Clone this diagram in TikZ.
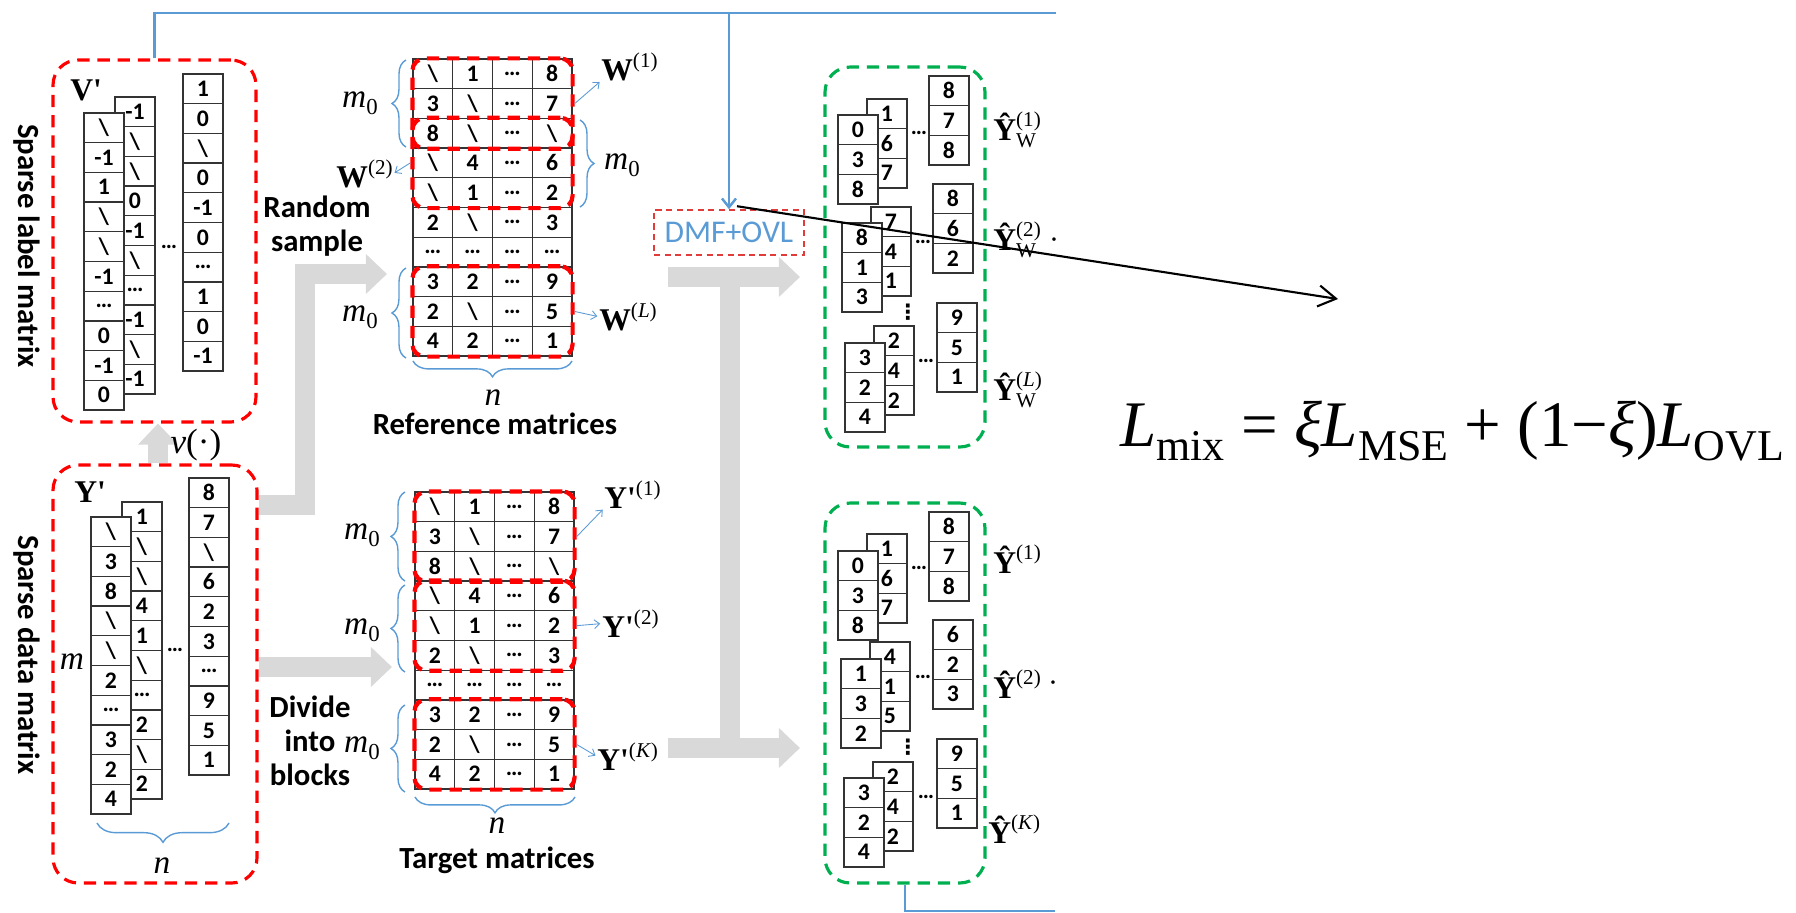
\documentclass[tikz,border=0pt]{standalone}
\usepackage{fontspec}
\setmainfont{Carlito}
\newfontfamily\tms{Liberation Serif}
\newfontfamily\djv{DejaVu Sans}
\usepackage{xcolor}
\usepackage{tikz}
\usetikzlibrary{arrows.meta,decorations.pathreplacing,fit,calc}

\definecolor{boxred}{RGB}{255,0,0}
\definecolor{dmfred}{RGB}{225,60,60}
\definecolor{boxgreen}{RGB}{0,176,80}
\definecolor{linkblue}{RGB}{91,155,213}
\definecolor{flowgrey}{RGB}{217,217,217}

\newcommand{\bs}{\textbackslash}
\newcommand{\tdots}{…}

% one column of cells: name, left x, top y, values
\newcommand{\vcol}[4]{%
  \foreach \val [count=\cn] in {#4}
    \node[cell] (#1-\cn) at ({#2+20},{#3+(\cn-0.5)*29.7}) {\val};}

% matrix of cells: name, left x, top y, rows
\newcommand{\mgrid}[4]{%
  \foreach \row [count=\ri] in {#4}
    \foreach \val [count=\ci] in \row
      \node[gcell] (#1-\ri-\ci) at ({#2+(\ci-0.5)*39.75},{#3+(\ri-0.5)*29.7}) {\val};}

% bold matrix symbols
\newcommand{\bmat}[2]{{\tms\fontsize{18}{18}\selectfont\bfseries #1}{\tms\fontsize{12}{12}\selectfont\raisebox{7pt}{#2}}}
\newcommand{\hmat}[2]{{\tms\fontsize{18}{18}\selectfont\bfseries Ŷ}{\tms\fontsize{12}{12}\selectfont\rlap{\raisebox{-4.5pt}{#2}}\raisebox{7.5pt}{#1}}}
\newcommand{\mzero}{{\tms\fontsize{19}{19}\selectfont\itshape m}{\tms\fontsize{13}{13}\selectfont\raisebox{-4pt}{0}}}
\newcommand{\subs}[1]{\raisebox{-8pt}{\fontsize{25}{25}\selectfont #1}}

\tikzset{
  cell/.style={draw=black!80, line width=0.7pt, fill=white, minimum width=0.8cm, minimum height=0.594cm, inner sep=0pt, font=\fontsize{13.5}{13.5}\selectfont\bfseries},
  gcell/.style={cell, minimum width=0.795cm},
  bigbox/.style={draw=#1, line width=1.8pt, dash pattern=on 7pt off 4.5pt, rounded corners=0.5cm, inner sep=0pt},
  blockbox/.style={draw=boxred, line width=2.4pt, dash pattern=on 7pt off 4.5pt, rounded corners=7pt, inner sep=0pt},
  brc/.style={draw=linkblue, line width=0.8pt, decorate, decoration={brace, amplitude=#1}},
  thinlink/.style={draw=linkblue, line width=0.5pt, -{Straight Barb[length=3pt,width=5pt]}, shorten >=1pt},
  bluelink/.style={draw=linkblue, line width=1.4pt},
  flow/.style={draw=flowgrey, line width=11.5pt, line join=miter, -{Triangle[length=12pt,width=22pt]}},
  tag/.style={inner sep=0pt, anchor=base west},
  sym/.style={inner sep=0pt, font=\tms\fontsize{19}{19}\selectfont\itshape},
  lbl/.style={inner sep=0pt, align=center, font=\fontsize{17.5}{19.5}\selectfont\bfseries},
  gap/.style={inner sep=0pt, font=\fontsize{13}{13}\selectfont\bfseries}
}

\begin{document}
\begin{tikzpicture}[x=0.02cm, y=-0.02cm]
\useasboundingbox (0,0) rectangle (1796,913);

% sparse label matrix
\node[bigbox=boxred, minimum width=4.06cm, minimum height=7.24cm] (vbox) at (154.5,241) {};
\node[lbl, rotate=-90] (vtext) at (27,246) {Sparse label matrix};
\node[tag] (lv) at (70,100) {\bmat{V\textquotesingle}{}};
\vcol{vb}{115}{97}{-1,\bs,\bs,0,-1,\bs,\tdots,-1,\bs,-1}
\vcol{vf}{84}{113}{\bs,-1,1,\bs,\bs,-1,\tdots,0,-1,0}
\vcol{vn}{183}{74}{1,0,\bs,0,-1,0,\tdots,1,0,-1}
\node[gap] (vgap) at (169,247) {\tdots};

% sparse data matrix
\node[bigbox=boxred, minimum width=4.08cm, minimum height=8.36cm] (ybox) at (155,674) {};
\node[lbl, rotate=-90] (ytext) at (27,655) {Sparse data matrix};
\node[tag] (ly) at (74,502) {\bmat{Y\textquotesingle}{}};
\vcol{yb}{122}{502}{1,\bs,\bs,4,1,\bs,\tdots,2,\bs,2}
\vcol{yf}{91}{517}{\bs,3,8,\bs,\bs,2,\tdots,3,2,4}
\vcol{yn}{189}{478}{8,7,\bs,6,2,3,\tdots,9,5,1}
\node[gap] (ygap) at (175,650) {\tdots};
\node[sym] (ym) at (72,662) {m};
\draw[brc=11pt] (229,823) -- (97,823);
\node[sym] (yn) at (162,866) {n};

\draw[flow] (ybox.north -| 158,0) -- (vbox.south -| 158,0);
\node[inner sep=0pt] (nu) at (196,445) {\tms\fontsize{20}{20}\selectfont\textit{v}(·)};

% reference matrices
\mgrid{ref}{413}{59}{{\bs,1,\tdots,8},{3,\bs,\tdots,7},{8,\bs,\tdots,\bs},{\bs,4,\tdots,6},{\bs,1,\tdots,2},{2,\bs,\tdots,3},{\tdots,\tdots,\tdots,\tdots},{3,2,\tdots,9},{2,\bs,\tdots,5},{4,2,\tdots,1}}
\node[blockbox, fit=(ref-1-1)(ref-3-4)] (w1) {};
\node[blockbox, fit=(ref-3-1)(ref-5-4)] (w2) {};
\node[blockbox, fit=(ref-8-1)(ref-10-4)] (wl) {};
\draw[brc=8pt] (406,147) -- (406,60);
\draw[brc=8pt] (580,120) -- (580,207);
\draw[brc=8pt] (406,358) -- (406,268);
\draw[brc=9pt] (572,361) -- (413,361);
\node (m1) at (360,103) {\mzero};
\node (m2) at (622,165) {\mzero};
\node (m3) at (360,317) {\mzero};
\node[sym] (rn) at (493,398) {n};
\node[lbl] (rtext) at (495,424) {Reference matrices};
\node[tag] (lw1) at (601,80) {\bmat{W}{(1)}};
\node[tag, anchor=base east] (lw2) at (393,187) {\bmat{W}{(2)}};
\node[tag] (lwl) at (599,330) {\bmat{W}{(\textit{L})}};
\draw[thinlink] (w1.east) -- (lw1.south west);
\draw[thinlink] (w2.west) -- (lw2.east);
\draw[thinlink] (wl.east) -- (lwl.west);

% target matrices
\mgrid{tgt}{415}{492}{{\bs,1,\tdots,8},{3,\bs,\tdots,7},{8,\bs,\tdots,\bs},{\bs,4,\tdots,6},{\bs,1,\tdots,2},{2,\bs,\tdots,3},{\tdots,\tdots,\tdots,\tdots},{3,2,\tdots,9},{2,\bs,\tdots,5},{4,2,\tdots,1}}
\node[blockbox, fit=(tgt-1-1)(tgt-3-4)] (t1) {};
\node[blockbox, fit=(tgt-4-1)(tgt-6-4)] (t2) {};
\node[blockbox, fit=(tgt-8-1)(tgt-10-4)] (tk) {};
\draw[brc=8pt] (405,581) -- (405,492);
\draw[brc=8pt] (405,672) -- (405,585);
\draw[brc=8pt] (405,792) -- (405,705);
\draw[brc=9pt] (575,797) -- (415,797);
\node (m4) at (362,535) {\mzero};
\node (m5) at (362,630) {\mzero};
\node (m6) at (362,748) {\mzero};
\node[sym] (tn) at (497,826) {n};
\node[lbl] (ttext) at (497,860) {Target matrices};
\node[tag] (ly1) at (604,508) {\bmat{Y\textquotesingle}{(1)}};
\node[tag] (ly2) at (602,637) {\bmat{Y\textquotesingle}{(2)}};
\node[tag] (lyk) at (597,770) {\bmat{Y\textquotesingle}{(\textit{K})}};
\draw[thinlink] (t1.east) -- (ly1.south west);
\draw[thinlink] (t2.east) -- (ly2.west);
\draw[thinlink] (tk.east) -- (lyk.west);

% flows between the stages
\coordinate (rsfoot) at (305,505);
\coordinate (rsturn) at (305,274);
\coordinate (rstip) at (387,274);
\draw[flow] (ybox.east |- rsfoot) -- (rsfoot) -- (rsturn) -- (rstip);
\node[lbl] (rsample) at (317,226) {Random\\sample};
\coordinate (dvtip) at (392,667);
\draw[flow] (ybox.east |- dvtip) -- (dvtip);
\node[lbl] (divide) at (310,741) {Divide\\into\\blocks};
\draw[flow, -] (730,277) -- (730,748);
\draw[flow] (668,277) -- (800,277);
\draw[flow] (668,748) -- (800,748);

% DMF+OVL and links
\node[draw=dmfred, line width=0.9pt, dash pattern=on 3.5pt off 2.5pt, minimum width=3cm, minimum height=0.9cm, inner sep=0pt, text=linkblue, font=\fontsize{18}{18}\selectfont] (dmf) at (729,232.5) {DMF+OVL};
\coordinate (topend) at (1056,13);
\draw[bluelink] (vbox.north) |- (topend);
\draw[bluelink, -{Straight Barb[length=5pt,width=8pt]}] (dmf.north |- topend) -- (dmf.north);

% estimated reference matrices
\node[bigbox=boxgreen, minimum width=3.2cm, minimum height=7.6cm] (gtop) at (905,257) {};
\vcol{ga}{867}{99}{1,6,7}
\vcol{gb}{838}{115}{0,3,8}
\vcol{gc}{929}{76}{8,7,8}
\node[gap] (ggap1) at (919,133) {\tdots};
\vcol{gd}{871}{207}{7,4,1}
\vcol{ge}{842}{223}{8,1,3}
\vcol{gf}{933}{184}{8,6,2}
\node[gap] (ggap2) at (923,242) {\tdots};
\node[inner sep=0pt] (gvd) at (908,312) {\djv\bfseries\fontsize{12}{12}\selectfont ⋮};
\vcol{gg}{874}{326}{2,4,2}
\vcol{gh}{845}{343}{3,2,4}
\vcol{gi}{937}{303}{9,5,1}
\node[gap] (ggap3) at (926,361) {\tdots};
\node[tag] (lg1) at (993,140) {\hmat{(1)}{W}};
\node[tag] (lg2) at (993,250) {\hmat{(2)}{W}};
\node[tag] (lgl) at (993,400) {\hmat{(\textit{L})}{W}};
\node[inner sep=0pt] (gdot) at (1054,244) {\tms\fontsize{17}{17}\selectfont ·};

% estimated target matrices
\node[bigbox=boxgreen, minimum width=3.2cm, minimum height=7.6cm] (gbot) at (905,693) {};
\vcol{ha}{867}{534}{1,6,7}
\vcol{hb}{838}{551}{0,3,8}
\vcol{hc}{929}{512}{8,7,8}
\node[gap] (hgap1) at (919,568) {\tdots};
\vcol{hd}{870}{642}{4,1,5}
\vcol{he}{841}{659}{1,3,2}
\vcol{hf}{933}{620}{6,2,3}
\node[gap] (hgap2) at (923,677) {\tdots};
\node[inner sep=0pt] (hvd) at (908,747) {\djv\bfseries\fontsize{12}{12}\selectfont ⋮};
\vcol{hg}{873}{762}{2,4,2}
\vcol{hh}{844}{778}{3,2,4}
\vcol{hi}{937}{739}{9,5,1}
\node[gap] (hgap3) at (926,797) {\tdots};
\node[tag] (lh1) at (993,573) {\hmat{(1)}{}};
\node[tag] (lh2) at (993,698) {\hmat{(2)}{}};
\node[tag] (lhk) at (988,843) {\hmat{(\textit{K})}{}};
\node[inner sep=0pt] (hdot) at (1053,687) {\tms\fontsize{17}{17}\selectfont ·};
\coordinate (botend) at (1055,911);
\draw[bluelink, line width=0.9pt] (gbot.south) |- (botend);

% loss
\node[tag, font=\tms\fontsize{37}{37}\selectfont] (loss) at (1120,446) {\textit{L}\subs{mix} = \textit{ξ}\textit{L}\subs{MSE} + (1−\textit{ξ})\textit{L}\subs{OVL}};
\coordinate (losstip) at (1338,299);
\draw[line width=1.2pt, -{Straight Barb[length=10pt,width=12pt]}] ($(dmf.north)+(8,-3)$) -- (losstip);
\end{tikzpicture}
\end{document}
